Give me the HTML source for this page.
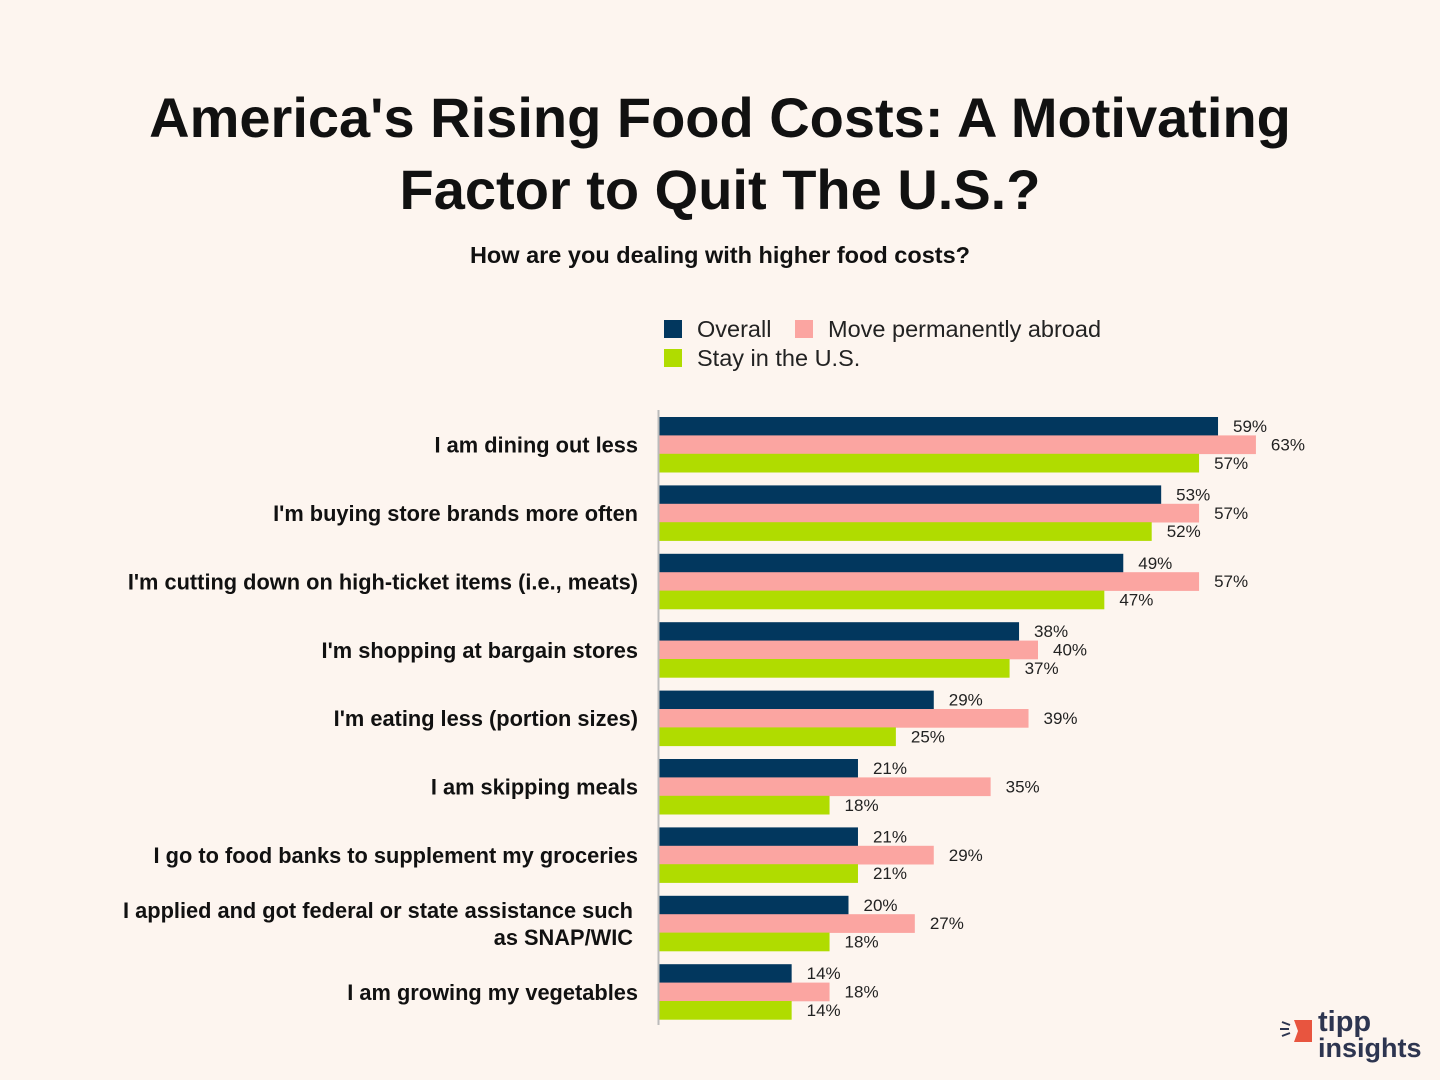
<!DOCTYPE html>
<html><head><meta charset="utf-8">
<style>
html,body{margin:0;padding:0;background:#fdf5ef;}
body{width:1440px;height:1080px;overflow:hidden;position:relative;font-family:"Liberation Sans","DejaVu Sans",sans-serif;}
.t{position:absolute;left:0;width:1440px;text-align:center;color:#111;}
</style></head>
<body>
<div class="t" style="top:82px;font-size:56px;font-weight:bold;line-height:72px;">America's Rising Food Costs: A Motivating<br>Factor to Quit The U.S.?</div>
<div class="t" style="top:242px;font-size:23.5px;font-weight:bold;">How are you dealing with higher food costs?</div>
<svg id="chart" width="1440" height="1080" style="position:absolute;left:0;top:0" xmlns="http://www.w3.org/2000/svg"></svg>
<div style="position:absolute;left:1280px;top:1012px;width:150px;height:60px;">
  <svg width="40" height="30" style="position:absolute;left:0;top:4px">
    <path d="M2 6 L10 9 M0 13 L9 13 M2 20 L10 17" stroke="#2d3550" stroke-width="2"/>
    <polygon points="14,4 32,4 32,26 14,26 18,15" fill="#e8553f"/>
  </svg>
  <div style="position:absolute;left:38px;top:-4px;font-size:29px;font-weight:bold;color:#2d3550;line-height:28px;">tipp</div>
  <div style="position:absolute;left:38px;top:22px;font-size:27px;font-weight:bold;color:#2d3550;line-height:28px;">insights</div>
</div>
<script>
const categories=["I am dining out less","I'm buying store brands more often","I'm cutting down on high-ticket items (i.e., meats)","I'm shopping at bargain stores","I'm eating less (portion sizes)","I am skipping meals","I go to food banks to supplement my groceries","I applied and got federal or state assistance such|as SNAP/WIC","I am growing my vegetables"];
const overall=[59,53,49,38,29,21,21,20,14];
const abroad=[63,57,57,40,39,35,29,27,18];
const stay=[57,52,47,37,25,18,21,18,14];
const seriesNames=["Overall","Move permanently abroad","Stay in the U.S."];
const colors=["#02375e","#fba5a1","#b0dc00"];
const svg=document.getElementById('chart');
const NS="http://www.w3.org/2000/svg";
const x0=659, pxPer=9.475, top0=417, step=68.4, bh=18.4;
const xs=v=>x0+v*pxPer;
function mk(tag,attrs){const e=document.createElementNS(NS,tag);for(const k in attrs)e.setAttribute(k,attrs[k]);svg.appendChild(e);return e;}
const leg=[[664,320],[795,320],[664,349]];
seriesNames.forEach((n,i)=>{
  const r=mk('rect',{x:leg[i][0],y:leg[i][1],width:18,height:18,fill:colors[i]});
  
  
  const t=mk('text',{x:leg[i][0]+33,y:leg[i][1]+17,'font-size':23.5,fill:'#222'});
  t.textContent=n;
  
  
});
const series=[overall,abroad,stay];
categories.forEach((c,ci)=>{
  const gy=top0+ci*step;
  series.forEach((s,si)=>{
    const y=gy+si*bh;
    const r=mk('rect',{x:x0,y:y,width:xs(s[ci])-x0,height:bh+0.3,fill:colors[si]});
    
    
    const t=mk('text',{x:xs(s[ci])+15,y:y+15,'font-size':17,fill:'#222'});
    t.textContent=s[ci]+'%';
    
    
  });
  const parts=c.split('|');
  const cy=gy+bh*1.5;
  parts.forEach((p,pi)=>{
    const t=mk('text',{x:parts.length>1?633:638,y:cy+8+(pi-(parts.length-1)/2)*27,'font-size':21.8,'font-weight':'bold','text-anchor':'end',fill:'#111'});
    t.textContent=p;
    
    
  });
});
const ax=mk('line',{x1:x0-0.5,y1:410,x2:x0-0.5,y2:1025,stroke:'#bbb','stroke-width':2});


</script>
</body></html>
